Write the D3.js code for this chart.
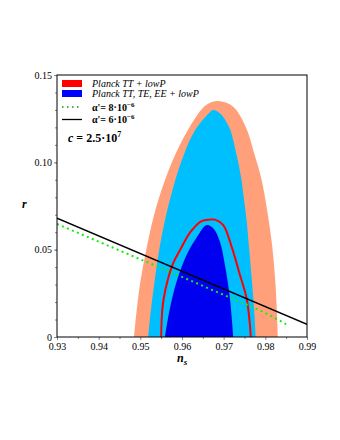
<!doctype html>
<html>
<head>
<meta charset="UTF-8">
<title>r vs ns</title>
<script src="https://d3js.org/d3.v7.min.js"></script>
<style>
  body { margin: 0; background: #fff; }
  svg text { font-family: "Liberation Serif", "Times New Roman", serif; fill: #000; }
</style>
</head>
<body>
<svg id="chart" width="340" height="440"></svg>
<script>
// contours, [n_s, r]
var ttLowP95 = [[0.9485,0],[0.9490,0.0126],[0.9500,0.0315],[0.9515,0.0510],[0.9533,0.0698],[0.9547,0.0813],
  [0.9576,0.1002],[0.9617,0.1197],[0.9658,0.1328],[0.9687,0.1351],[0.9723,0.1318],[0.9754,0.1197],
  [0.9773,0.1053],[0.9790,0.0910],[0.9805,0.0716],[0.9817,0.0510],[0.9824,0.0315],[0.9828,0.0126],[0.9830,0]];
var ttTeEe95 = [[0.9519,0],[0.9524,0.0126],[0.9534,0.0315],[0.9546,0.0510],[0.9562,0.0698],[0.9574,0.0813],
  [0.9598,0.1002],[0.9629,0.1174],[0.9665,0.1282],[0.9675,0.1300],[0.9691,0.1281],[0.9713,0.1202],
  [0.9730,0.1053],[0.9742,0.0910],[0.9749,0.0784],[0.9755,0.0670],[0.9761,0.0510],[0.9768,0.0315],[0.9774,0.0126],[0.9777,0]];
var ttTeEe68 = [[0.9559,0],[0.9571,0.0164],[0.9587,0.0317],[0.9611,0.0469],[0.9639,0.0584],[0.9659,0.0641],
  [0.9675,0.0622],[0.9691,0.0546],[0.9703,0.0412],[0.9715,0.0222],[0.9723,0]];
var ttLowP68 = [[0.9550,0],[0.9553,0.0164],[0.9560,0.0269],[0.9577,0.0412],[0.9597,0.0505],[0.9620,0.0600],[0.9647,0.0664],
  [0.9667,0.0672],[0.9679,0.0672],[0.9699,0.0641],[0.9720,0.0510],[0.9737,0.0372],[0.9755,0.0222],[0.9763,0.0069],[0.9765,0]];
var alpha8 = [[0.93,0.0647],[0.9479,0.0466],[0.9663,0.0279],[0.9839,0.0088],[0.985,0.0073]];
var alpha6 = [[0.93,0.0680],[0.99,0.0073]];

var xTicks = [0.93,0.94,0.95,0.96,0.97,0.98,0.99];
var yTicks = [0,0.05,0.10,0.15];
var legendLabels = ["Planck TT + lowP", "Planck TT, TE, EE + lowP"];

var pLeft = 57, pRight = 307, pTop = 75, pBottom = 337;
var svg = d3.select("#chart");
var x = d3.scaleLinear().domain([0.93,0.99]).range([pLeft,pRight]);
var y = d3.scaleLinear().domain([0,0.15]).range([pBottom,pTop]);

svg.append("clipPath").attr("id","clip").append("rect")
  .attr("x",pLeft).attr("y",pTop).attr("width",pRight-pLeft).attr("height",pBottom-pTop);

var plot = svg.append("g").attr("clip-path","url(#clip)");
var shape = d3.line().x(function(d){return x(d[0]);}).y(function(d){return y(d[1]);}).curve(d3.curveCatmullRom);
var straight = d3.line().x(function(d){return x(d[0]);}).y(function(d){return y(d[1]);}).curve(d3.curveMonotoneX);

plot.append("path").attr("d",shape(ttLowP95)+"Z").attr("fill","#ffa07a");
plot.append("path").attr("d",shape(ttTeEe95)+"Z").attr("fill","#00bfff");
plot.append("path").attr("d",shape(ttTeEe68)+"Z").attr("fill","#0000f0");
plot.append("path").attr("d",shape(ttLowP68)).attr("fill","none").attr("stroke","#ff0000").attr("stroke-width",2);
plot.append("path").attr("d",straight(alpha8)).attr("fill","none").attr("stroke","#11ee11")
  .attr("stroke-width",2).attr("stroke-dasharray","2,3.4");
plot.append("path").attr("d",straight(alpha6)).attr("fill","none").attr("stroke","#000").attr("stroke-width",1.5);

// axes
var xAxis = svg.append("g").attr("transform","translate(0,"+pBottom+")")
  .call(d3.axisBottom(x).tickValues(xTicks).tickSize(3).tickFormat(d3.format(".2f")));
svg.append("g").attr("transform","translate(0,"+pBottom+")")
  .call(d3.axisBottom(x).tickValues(d3.range(0.935,0.99,0.01)).tickSize(2).tickFormat(""));
var yAxis = svg.append("g").attr("transform","translate("+pLeft+",0)")
  .call(d3.axisLeft(y).tickValues(yTicks).tickSize(3)
    .tickFormat(function(d){return d===0 ? "0" : d3.format(".2f")(d);}));
svg.append("g").attr("transform","translate("+pLeft+",0)")
  .call(d3.axisLeft(y).tickValues(d3.range(0.01,0.15,0.01)).tickSize(2).tickFormat(""));
svg.selectAll(".domain").remove();
svg.selectAll(".tick line").attr("stroke","#888");
svg.selectAll(".tick text").attr("font-size",10).attr("font-family","Liberation Serif");
xAxis.selectAll(".tick text").attr("y",6);
yAxis.selectAll(".tick text").attr("x",-5);

svg.append("rect").attr("x",pLeft).attr("y",pTop).attr("width",pRight-pLeft).attr("height",pBottom-pTop)
  .attr("fill","none").attr("stroke","#000").attr("stroke-width",1);

// axis titles
var xt = svg.append("text").attr("x",177).attr("y",362).attr("font-size",12)
  .attr("font-weight","bold").attr("font-style","italic");
xt.append("tspan").text("n");
xt.append("tspan").attr("dy",3).attr("font-size",9).text("s");
svg.append("text").attr("x",22).attr("y",208).attr("font-size",12)
  .attr("font-weight","bold").attr("font-style","italic").text("r");

// legend
var lg = svg.append("g");
lg.append("rect").attr("x",62).attr("y",80).attr("width",20).attr("height",7).attr("fill","#ff0000");
lg.append("rect").attr("x",62).attr("y",90).attr("width",20).attr("height",7).attr("fill","#0000ff");
lg.selectAll("text.lab").data(legendLabels).enter().append("text").attr("class","lab")
  .attr("x",92).attr("y",function(d,i){return 87+i*10;}).attr("font-size",10)
  .attr("font-style","italic").text(function(d){return d;});
lg.append("line").attr("x1",62).attr("x2",82).attr("y1",107).attr("y2",107)
  .attr("stroke","#009900").attr("stroke-width",1.5).attr("stroke-dasharray","1.5,3.5");
lg.append("line").attr("x1",62).attr("x2",82).attr("y1",119.5).attr("y2",119.5)
  .attr("stroke","#000").attr("stroke-width",1.3);
[["α'= 8·10",111],["α'= 6·10",123]].forEach(function(a){
  var t = lg.append("text").attr("x",92).attr("y",a[1]).attr("font-size",10).attr("font-weight","bold");
  t.append("tspan").text(a[0]);
  t.append("tspan").attr("dy",-4).attr("font-size",7).text("−6");
});
var ct = lg.append("text").attr("x",68).attr("y",142).attr("font-size",12).attr("font-weight","bold");
ct.append("tspan").attr("font-style","italic").text("c");
ct.append("tspan").text(" = 2.5·10");
ct.append("tspan").attr("dy",-5).attr("font-size",8).text("7");
</script>
</body>
</html>
